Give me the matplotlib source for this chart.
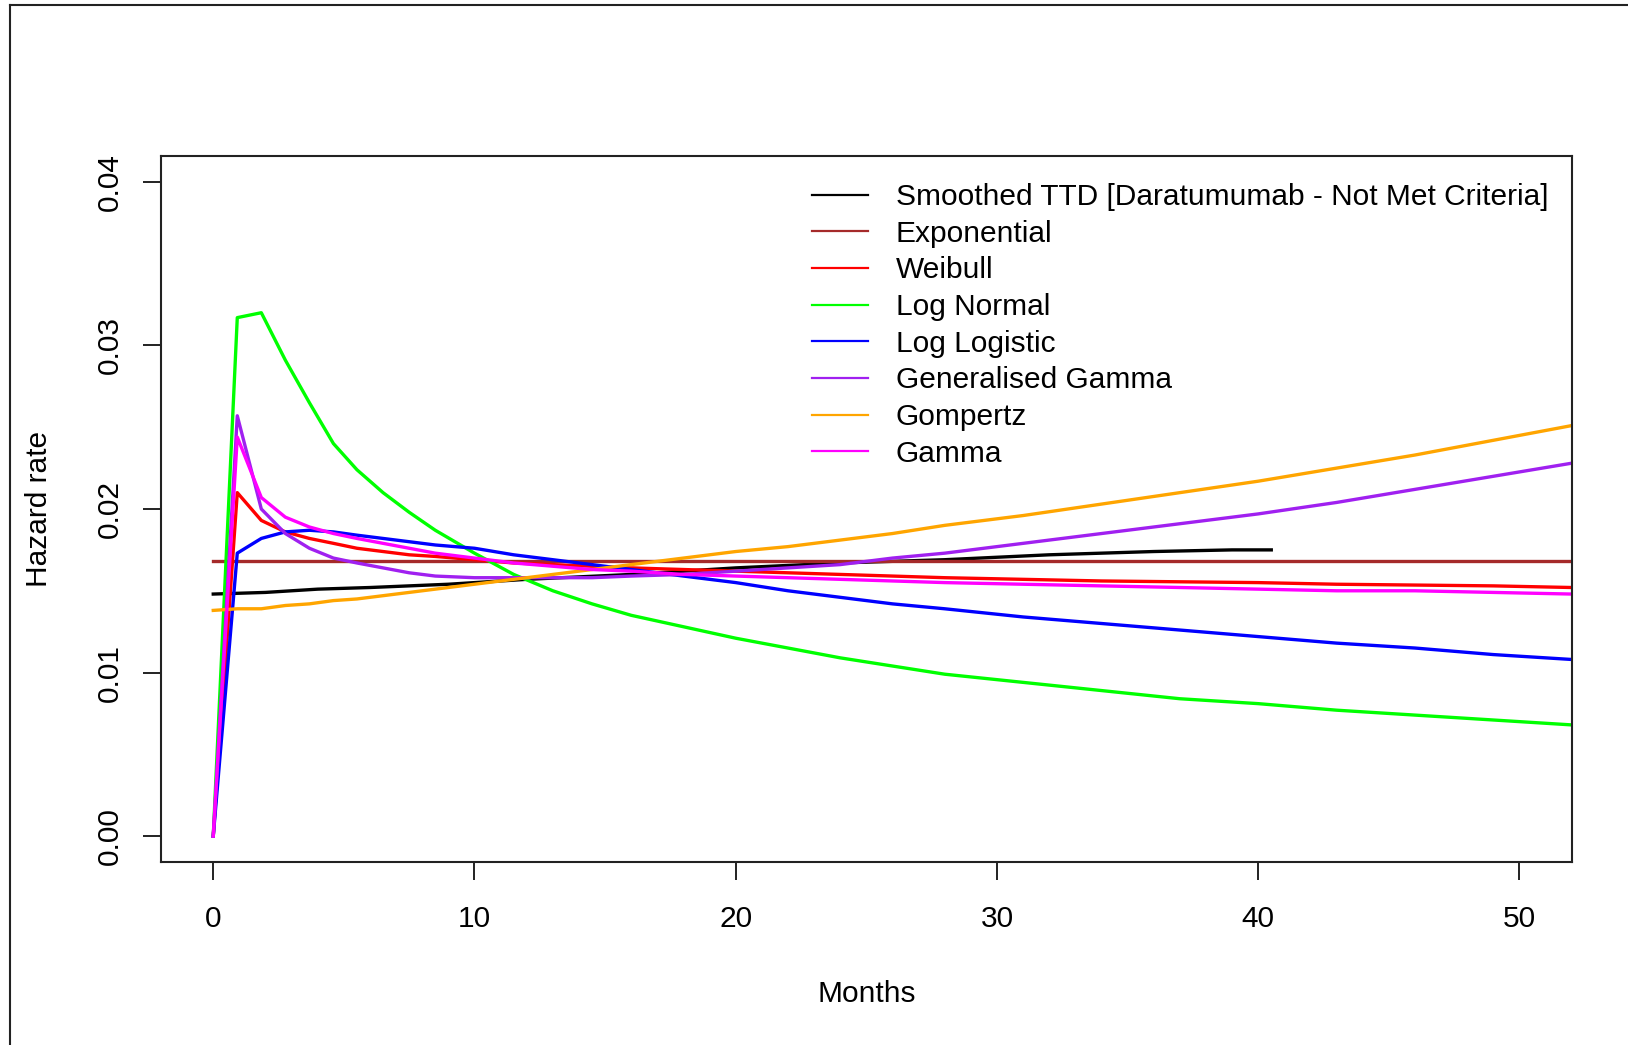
import matplotlib
matplotlib.use("Agg")
import matplotlib.pyplot as plt
from matplotlib.lines import Line2D

# === DONNÉES ===
months = [0, 0.92, 1.84, 2.76, 3.68, 4.6, 5.5, 6.5, 7.5, 8.5, 10, 11.5, 13,
          14.5, 16, 18, 20, 22, 24, 26, 28, 31, 34, 37, 40, 43, 46, 49, 52]

exponential = [0.0168] * len(months)
weibull = [0.0, 0.0210, 0.0193, 0.0186, 0.0182, 0.0179, 0.0176, 0.0174, 0.0172,
           0.0171, 0.0169, 0.0167, 0.0166, 0.0165, 0.0164, 0.0163, 0.0162,
           0.0161, 0.0160, 0.0159, 0.0158, 0.0157, 0.0156, 0.01555, 0.0155,
           0.0154, 0.01535, 0.0153, 0.0152]
log_normal = [0.0, 0.0317, 0.0320, 0.0291, 0.0265, 0.0240, 0.0224, 0.0210,
              0.0198, 0.0187, 0.0173, 0.0160, 0.0150, 0.0142, 0.0135, 0.0128,
              0.0121, 0.0115, 0.0109, 0.0104, 0.0099, 0.0094, 0.0089, 0.0084,
              0.0081, 0.0077, 0.0074, 0.0071, 0.0068]
log_logistic = [0.0, 0.0173, 0.0182, 0.0186, 0.0187, 0.0186, 0.0184, 0.0182,
                0.0180, 0.0178, 0.0176, 0.0172, 0.0169, 0.0166, 0.0163, 0.0159,
                0.0155, 0.0150, 0.0146, 0.0142, 0.0139, 0.0134, 0.0130, 0.0126,
                0.0122, 0.0118, 0.0115, 0.0111, 0.0108]
gen_gamma = [0.0, 0.0257, 0.0200, 0.0185, 0.0176, 0.0170, 0.0167, 0.0164,
             0.0161, 0.0159, 0.0158, 0.0158, 0.0158, 0.0158, 0.0159, 0.0160,
             0.0162, 0.0164, 0.0166, 0.0170, 0.0173, 0.0179, 0.0185, 0.0191,
             0.0197, 0.0204, 0.0212, 0.0220, 0.0228]
gompertz = [0.0138, 0.0139, 0.0139, 0.0141, 0.0142, 0.0144, 0.0145, 0.0147,
            0.0149, 0.0151, 0.0154, 0.0157, 0.0160, 0.0163, 0.0166, 0.0170,
            0.0174, 0.0177, 0.0181, 0.0185, 0.0190, 0.0196, 0.0203, 0.0210,
            0.0217, 0.0225, 0.0233, 0.0242, 0.0251]
gamma = [0.0, 0.0244, 0.0207, 0.0195, 0.0189, 0.0185, 0.0182, 0.0179, 0.0176,
         0.0173, 0.0170, 0.0167, 0.0165, 0.0163, 0.0162, 0.0160, 0.0159,
         0.0158, 0.0157, 0.0156, 0.0155, 0.0154, 0.0153, 0.0152, 0.0151,
         0.0150, 0.0150, 0.0149, 0.0148]

smooth_months = [0, 2, 4, 6, 9, 12, 16, 20, 24, 28, 32, 36, 39, 40.5]
smooth_ttd = [0.0148, 0.0149, 0.0151, 0.0152, 0.0154, 0.0157, 0.0160, 0.0164,
              0.0167, 0.0169, 0.0172, 0.0174, 0.0175, 0.0175]

labels = ["Smoothed TTD [Daratumumab - Not Met Criteria]", "Exponential",
          "Weibull", "Log Normal", "Log Logistic", "Generalised Gamma",
          "Gompertz", "Gamma"]
colors = ["black", "#A52A2A", "#FF0000", "#00FF00", "#0000FF", "#A020F0",
          "#FFA500", "#FF00FF"]
x_ticks = [0, 10, 20, 30, 40, 50]
y_ticks = [0.00, 0.01, 0.02, 0.03, 0.04]

# === STYLE ===
plt.rcParams["font.family"] = ["Liberation Sans", "DejaVu Sans"]
FS = 21.5
W, H = 1628, 1045

fig = plt.figure(figsize=(W / 100, H / 100), dpi=100)
ax = fig.add_axes([161 / W, 1 - 862.3 / H, (1571.7 - 161) / W, (862.3 - 155.7) / H])

series = [(smooth_months, smooth_ttd), (months, exponential), (months, weibull),
          (months, log_normal), (months, log_logistic), (months, gen_gamma),
          (months, gompertz), (months, gamma)]
for (t, h), lab, col in zip(series, labels, colors):
    ax.plot(t, h, color=col, lw=2.4, label=lab)

ax.set_xlim(-2, 52)
ax.set_ylim(-0.0016, 0.0416)
ax.set_xticks(x_ticks)
ax.set_xticklabels([str(v) for v in x_ticks])
ax.set_yticks(y_ticks)
ax.set_yticklabels([f"{v:.2f}" for v in y_ticks])

for sp in ax.spines.values():
    sp.set_linewidth(1.5)
    sp.set_color("#222222")
ax.tick_params(axis="both", direction="out", length=13, width=1.4,
               color="#222222", labelsize=FS)
ax.tick_params(axis="x", pad=18)
ax.tick_params(axis="y", pad=13.5, labelrotation=90)
for lbl in ax.get_yticklabels():
    lbl.set_verticalalignment("center")

fig.text(866.3 / W, 1 - 994 / H, "Months", ha="center", va="center", fontsize=FS)
fig.text(39.5 / W, 1 - 509 / H, "Hazard rate", ha="center", va="center",
         rotation=90, fontsize=FS)

leg = ax.legend(loc="upper left", bbox_to_anchor=((812 - 161) / 1410.7, (862.3 - 183) / 706.6),
                frameon=False, fontsize=FS, handlelength=1.87, handletextpad=0.94,
                labelspacing=0.29, borderpad=0, borderaxespad=0)
for l in leg.get_lines():
    l.set_linewidth(1.6)

# cadre extérieur (coupé à droite et en bas)
fig.add_artist(Line2D([10 / W, 10 / W], [0, 1 - 5 / H], transform=fig.transFigure,
                      color="#222222", lw=1.5))
fig.add_artist(Line2D([10 / W, 1], [1 - 5 / H, 1 - 5 / H], transform=fig.transFigure,
                      color="#222222", lw=1.5))

fig.savefig("out.png", dpi=100)
